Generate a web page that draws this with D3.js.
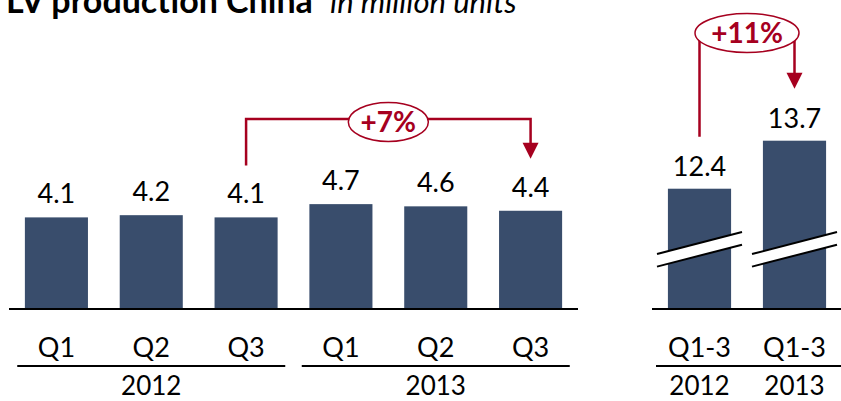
<!DOCTYPE html>
<html>
<head>
<meta charset="utf-8">
<script src="https://cdn.jsdelivr.net/npm/d3@7"></script>
<style>
  html, body { margin: 0; padding: 0; background: #fff; }
  svg { display: block; font-family: Lato, "Open Sans", sans-serif; }
</style>
</head>
<body>
<div id="chart"></div>
<script>

// quarterly values (million units)
var quarters = ["Q1", "Q2", "Q3", "Q1", "Q2", "Q3"];
var quarterYears = ["2012", "2012", "2012", "2013", "2013", "2013"];
var quarterValues = [4.1, 4.2, 4.1, 4.7, 4.6, 4.4];

// year to date totals
var ytdLabels = ["Q1-3", "Q1-3"];
var ytdYears = ["2012", "2013"];
var ytdValues = [12.4, 13.7];

var growthQuarter = "+7%";
var growthYtd = "+11%";

var width = 841, height = 401,
	baseY = 308, barColor = "#394d6c", red = "#a6001f";

var svg = d3.select("#chart").append("svg")
	.attr("width", width)
	.attr("height", height);

// title (cut off at the top like the original slide)
var title = svg.append("text").attr("y", 13);
title.append("tspan")
	.attr("x", 6)
	.attr("font-weight", "bold")
	.attr("font-size", 34)
	.text("LV production China");
title.append("tspan")
	.attr("x", 330)
	.attr("font-style", "italic")
	.attr("font-size", 31)
	.text("in million units");

// ---------- left panel: quarters ----------
var xL = d3.scaleBand()
	.domain(d3.range(quarters.length))
	.range([9, 578])
	.paddingInner(0.335)
	.paddingOuter(0.1675);

var yL = d3.scaleLinear().domain([0, 5]).range([baseY, 197.5]);

var left = svg.append("g");

left.selectAll("rect")
	.data(quarterValues)
	.enter().append("rect")
		.attr("x", function(d, i) { return xL(i); })
		.attr("y", function(d) { return yL(d); })
		.attr("width", xL.bandwidth())
		.attr("height", function(d) { return baseY - yL(d); })
		.attr("fill", barColor);

left.selectAll("text.val")
	.data(quarterValues)
	.enter().append("text")
		.attr("class", "val")
		.attr("x", function(d, i) { return xL(i) + xL.bandwidth() / 2; })
		.attr("y", function(d) { return yL(d) - 14; })
		.attr("text-anchor", "middle")
		.attr("font-size", 27)
		.text(function(d) { return d3.format(".1f")(d); });

left.append("line")
	.attr("x1", xL.range()[0]).attr("x2", xL.range()[1])
	.attr("y1", baseY + 1).attr("y2", baseY + 1)
	.attr("stroke", "#000").attr("stroke-width", 2);

left.selectAll("text.cat")
	.data(quarters)
	.enter().append("text")
		.attr("class", "cat")
		.attr("x", function(d, i) { return xL(i) + xL.bandwidth() / 2; })
		.attr("y", 357)
		.attr("text-anchor", "middle")
		.attr("font-size", 27)
		.text(function(d) { return d; });

var groups = d3.groups(d3.range(quarters.length), function(i) { return quarterYears[i]; });

groups.forEach(function(g) {
	var idx = g[1],
		x0 = xL(idx[0]),
		x1 = xL(idx[idx.length - 1]) + xL.bandwidth(),
		mid = (x0 + x1) / 2;

	left.append("line")
		.attr("x1", mid - 134).attr("x2", mid + 134)
		.attr("y1", 366).attr("y2", 366)
		.attr("stroke", "#000").attr("stroke-width", 2);

	left.append("text")
		.attr("x", mid)
		.attr("y", 395)
		.attr("text-anchor", "middle")
		.attr("font-size", 26)
		.text(g[0]);
});

// ---------- right panel: Q1-3 totals (broken axis) ----------
var xR = d3.scaleBand()
	.domain(d3.range(ytdValues.length))
	.range([652, 842])
	.paddingInner(0.335)
	.paddingOuter(0.1675);

var yR = d3.scaleLinear().domain([9.17, 13.7]).range([baseY, 140.7]);

var right = svg.append("g");

right.selectAll("rect")
	.data(ytdValues)
	.enter().append("rect")
		.attr("x", function(d, i) { return xR(i); })
		.attr("y", function(d) { return yR(d); })
		.attr("width", xR.bandwidth())
		.attr("height", function(d) { return baseY - yR(d); })
		.attr("fill", barColor);

// axis break marks
var breakY = (baseY + yR(d3.min(ytdValues))) / 2 + 1,
	slope = -0.258, half = 42.5, gap = 6.3;

ytdValues.forEach(function(d, i) {
	var cx = xR(i) + xR.bandwidth() / 2,
		xa = cx - half, xb = cx + half;
	var ya = breakY - slope * half, yb = breakY + slope * half;

	right.append("polygon")
		.attr("points", [[xa, ya - gap], [xb, yb - gap], [xb, yb + gap], [xa, ya + gap]].join(" "))
		.attr("fill", "#fff");

	[-gap, gap].forEach(function(o) {
		right.append("line")
			.attr("x1", xa).attr("y1", ya + o)
			.attr("x2", xb).attr("y2", yb + o)
			.attr("stroke", "#000").attr("stroke-width", 2);
	});
});

right.selectAll("text.val")
	.data(ytdValues)
	.enter().append("text")
		.attr("class", "val")
		.attr("x", function(d, i) { return xR(i) + xR.bandwidth() / 2; })
		.attr("y", function(d) { return yR(d) - 13; })
		.attr("text-anchor", "middle")
		.attr("font-size", 27)
		.text(function(d) { return d3.format(".1f")(d); });

right.append("line")
	.attr("x1", 652).attr("x2", width)
	.attr("y1", baseY + 1).attr("y2", baseY + 1)
	.attr("stroke", "#000").attr("stroke-width", 2);

right.selectAll("text.cat")
	.data(ytdLabels)
	.enter().append("text")
		.attr("class", "cat")
		.attr("x", function(d, i) { return xR(i) + xR.bandwidth() / 2; })
		.attr("y", 357)
		.attr("text-anchor", "middle")
		.attr("font-size", 27)
		.text(function(d) { return d; });

right.append("line")
	.attr("x1", 656).attr("x2", width)
	.attr("y1", 366).attr("y2", 366)
	.attr("stroke", "#000").attr("stroke-width", 2);

right.selectAll("text.year")
	.data(ytdYears)
	.enter().append("text")
		.attr("class", "year")
		.attr("x", function(d, i) { return xR(i) + xR.bandwidth() / 2; })
		.attr("y", 395)
		.attr("text-anchor", "middle")
		.attr("font-size", 26)
		.text(function(d) { return d; });

// ---------- growth annotations ----------
function growthArrow(x0, y0, x1, y1, topY, ellY, rx, label) {
	var g = svg.append("g");
	var head = 16;

	g.append("path")
		.attr("d", "M" + x0 + "," + y0 + "V" + topY + "H" + x1 + "V" + (y1 - head + 1))
		.attr("fill", "none")
		.attr("stroke", red)
		.attr("stroke-width", 2.5);

	g.append("path")
		.attr("d", "M" + (x1 - 8) + "," + (y1 - head) + "L" + (x1 + 8) + "," + (y1 - head) + "L" + x1 + "," + y1 + "Z")
		.attr("fill", red);

	var cx = (x0 + x1) / 2;
	g.append("ellipse")
		.attr("cx", cx).attr("cy", ellY)
		.attr("rx", rx).attr("ry", 19.5)
		.attr("fill", "#fff")
		.attr("stroke", red)
		.attr("stroke-width", 1.5);

	g.append("text")
		.attr("x", cx).attr("y", ellY + 9.5)
		.attr("text-anchor", "middle")
		.attr("font-size", 28)
		.attr("font-weight", "bold")
		.attr("fill", red)
		.text(label);
}

var a0 = xL(2) + xL.bandwidth() / 2, a1 = xL(5) + xL.bandwidth() / 2;
growthArrow(a0, yL(quarterValues[2]) - 52, a1, yL(quarterValues[5]) - 52, 119, 122, 40, growthQuarter);

var b0 = xR(0) + xR.bandwidth() / 2, b1 = xR(1) + xR.bandwidth() / 2;
growthArrow(b0, yR(ytdValues[0]) - 52, b1, yR(ytdValues[1]) - 52, 33, 33, 52, growthYtd);

</script>
</body>
</html>
